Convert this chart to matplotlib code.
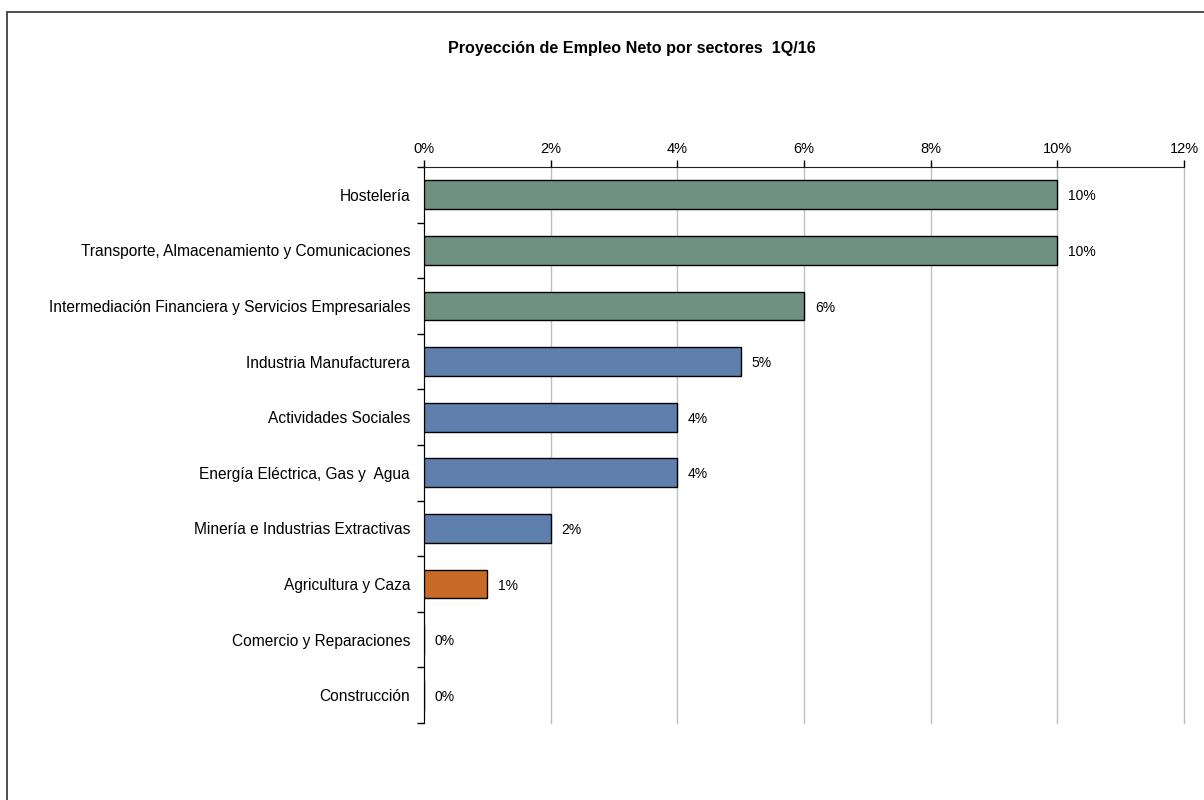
import numpy as np
import matplotlib
matplotlib.use('Agg')
import matplotlib.pyplot as plt
from matplotlib.patches import Rectangle
from matplotlib.ticker import FixedLocator, PercentFormatter

plt.rcParams['font.family'] = ['Liberation Sans', 'DejaVu Sans']

sectors = ['Hostelería',
           'Transporte, Almacenamiento y Comunicaciones',
           'Intermediación Financiera y Servicios Empresariales',
           'Industria Manufacturera',
           'Actividades Sociales',
           'Energía Eléctrica, Gas y  Agua',
           'Minería e Industrias Extractivas',
           'Agricultura y Caza',
           'Comercio y Reparaciones',
           'Construcción']
values = [10, 10, 6, 5, 4, 4, 2, 1, 0, 0]
groups = ['up', 'up', 'up', 'mid', 'mid', 'mid', 'mid', 'low', 'low', 'low']
group_colors = {'up': '#6f9182', 'mid': '#5f80ad', 'low': '#c86a28'}

fig = plt.figure(figsize=(12.04, 8), dpi=100)
fig.patches.append(Rectangle((7 / 1204, -0.1), 1.2, 0.1 + 1 - 12 / 800,
                             transform=fig.transFigure, fill=False,
                             edgecolor='#404040', linewidth=1.3))

ax = fig.add_axes([424 / 1204, 1 - 723 / 800, 760 / 1204, 556 / 800])
y = np.arange(len(sectors))
colors = [group_colors[g] for g in groups]
ax.barh(y, values, height=0.52, color=colors, edgecolor='black', linewidth=1, zorder=3)

for yi, v in zip(y, values):
    ax.text(v + 0.17, yi + 0.03, f'{v}%', va='center', ha='left', fontsize=10, zorder=4)

ax.set_xlim(0, 12)
ax.set_ylim(len(sectors) - 0.5, -0.5)
ax.set_xticks(np.arange(0, 13, 2))
ax.xaxis.set_major_formatter(PercentFormatter(decimals=0))
ax.xaxis.tick_top()
ax.tick_params(axis='x', direction='out', length=5, width=1, labelsize=10.5, pad=3, colors='black')
ax.grid(axis='x', color='#c0c0c0', linewidth=1, zorder=0)
for gl in ax.get_xgridlines():
    gl.set_clip_on(False)

ax.set_yticks(y)
ax.set_yticklabels(sectors, fontsize=11.2)
ax.tick_params(axis='y', which='major', length=0, pad=10)
ax.yaxis.set_minor_locator(FixedLocator(np.arange(-0.5, len(sectors), 1)))
ax.tick_params(axis='y', which='minor', length=5, width=1, direction='out')

for s in ['right', 'bottom']:
    ax.spines[s].set_visible(False)
ax.spines['top'].set_color('#202020')
ax.spines['left'].set_color('black')

fig.text(632 / 1204, 1 - 49 / 800, 'Proyección de Empleo Neto por sectores  1Q/16',
         ha='center', va='center', fontsize=11.6, fontweight='bold')

fig.savefig('out.png', dpi=100)
